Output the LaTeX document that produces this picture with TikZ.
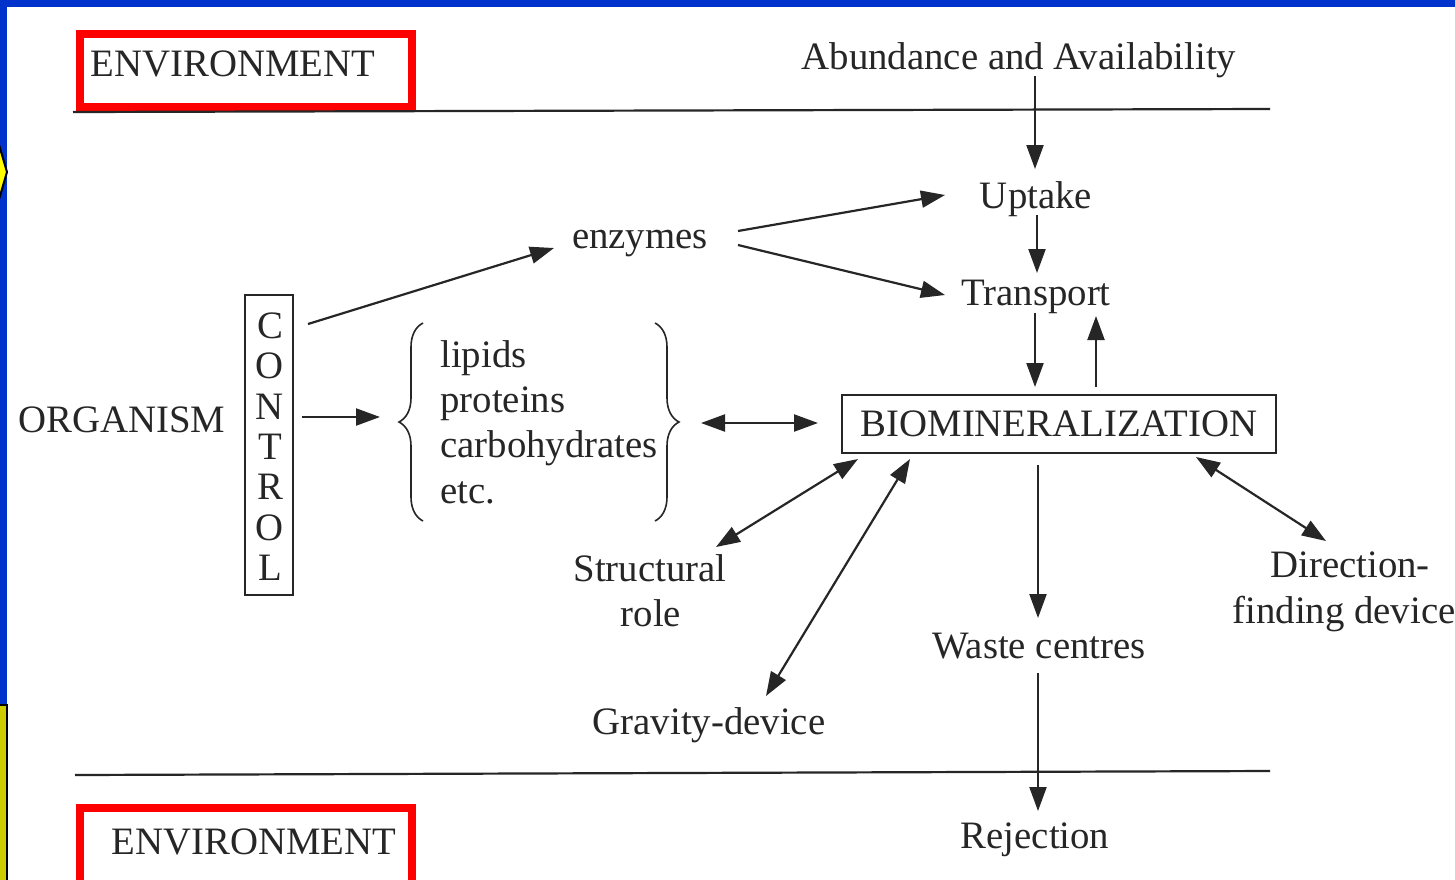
\documentclass[tikz,border=0pt]{standalone}
\usepackage{fontspec}
\setmainfont{Liberation Serif}
\usetikzlibrary{arrows.meta,decorations.pathreplacing}
\definecolor{slideblue}{HTML}{0033CC}
\definecolor{ink}{HTML}{262626}
\definecolor{hexyellow}{HTML}{FFFF00}
\definecolor{baryellow}{HTML}{CCCC00}
\begin{document}
\begin{tikzpicture}[x=0.5pt,y=-0.5pt,
  txt/.style={font=\fontsize{19.4}{23}\selectfont, text=ink, inner sep=0pt, anchor=base},
  ltxt/.style={txt, anchor=base west},
  arr/.style={draw=ink, line width=1.1pt, -{Triangle[length=12pt,width=8.5pt]}},
  darr/.style={draw=ink, line width=1.1pt, {Triangle[length=12pt,width=8.5pt]}-{Triangle[length=12pt,width=8.5pt]}},
  redbox/.style={draw=red, line width=4pt},
  rulerline/.style={draw=ink, line width=1.1pt},
  bracestyle/.style={draw=ink, line width=0.8pt, decorate, decoration={brace, amplitude=12pt}}]
\useasboundingbox (0,0) rectangle (1455,879);
\fill[white] (0,0) rectangle (1455,879);
\clip (0,0) rectangle (1455,879);
% slide frame
\fill[slideblue] (0,0) rectangle (1455,7);
\fill[slideblue] (0,0) rectangle (7,879);
\filldraw[fill=hexyellow, draw=black, line width=1pt] (-20,131) -- (-5,131) -- (7,172) -- (-5,213) -- (-20,213) -- cycle;
\filldraw[fill=baryellow, draw=black, line width=1pt] (-10,705) rectangle (7,900);
% environment boxes and rules
\draw[redbox] (80,34) rectangle (412,107);
\draw[redbox] (80,808) rectangle (412,900);
\coordinate (topL) at (73,112);
\coordinate (topR) at (1270,109);
\coordinate (botL) at (75,775);
\coordinate (botR) at (1270,771);
\draw[rulerline] (topL) -- (topR);
\draw[rulerline] (botL) -- (botR);
\node[txt] (env1) at (233,76) {ENVIRONMENT};
\node[txt] (env2) at (254,854) {ENVIRONMENT};
% text nodes
\node[txt] (abund) at (1019,69) {Abundance and Availability};
\node[txt] (uptake) at (1036,208) {Uptake};
\node[txt] (transport) at (1036,305) {Transport};
\node[txt] (enzymes) at (640,248) {enzymes};
\node[txt] (organism) at (122,432) {ORGANISM};
\node[draw=ink, line width=0.8pt, minimum width=24pt, minimum height=150pt, inner sep=0pt] (control) at (269,445) {};
\node[txt] (c1) at (270,338) {C};
\node[txt] (c2) at (270,378) {O};
\node[txt] (c3) at (270,419) {N};
\node[txt] (c4) at (270,459) {T};
\node[txt] (c5) at (270,499) {R};
\node[txt] (c6) at (270,540) {O};
\node[txt] (c7) at (270,580) {L};
\node[ltxt] (lipids) at (440,367) {lipids};
\node[ltxt] (proteins) at (440,412) {proteins};
\node[ltxt] (carbo) at (440,457) {carbohydrates};
\node[ltxt] (etc) at (440,503) {etc.};
\coordinate (lbA) at (423,521);
\coordinate (lbB) at (423,323);
\coordinate (rbA) at (655,323);
\coordinate (rbB) at (655,521);
\draw[bracestyle] (lbA) -- (lbB);
\draw[bracestyle] (rbA) -- (rbB);
\node[txt, anchor=center, draw=ink, line width=0.9pt, minimum width=217pt, minimum height=29pt] (biomin) at (1059,424) {BIOMINERALIZATION};
\node[txt] (structural) at (650,581) {Structural};
\node[txt] (role) at (651,626) {role};
\node[txt] (gravity) at (709,734) {Gravity-device};
\node[txt] (waste) at (1039,658) {Waste centres};
\node[txt] (rejection) at (1035,848) {Rejection};
\node[txt] (direction) at (1350,577) {Direction-};
\node[txt] (finding) at (1344,623) {finding device};
% connector ports
\coordinate (abund-s) at (1035,76);
\coordinate (uptake-n) at (1035,169);
\coordinate (uptake-s) at (1037,215);
\coordinate (transport-n) at (1037,273);
\coordinate (enz-e1) at (738,231);
\coordinate (uptake-w) at (945,195);
\coordinate (enz-e2) at (738,245);
\coordinate (transport-w) at (945,295);
\coordinate (control-ne) at (308,324);
\coordinate (enz-w) at (554,248);
\coordinate (control-e) at (302,417);
\coordinate (brace-w) at (380,417);
\coordinate (brace-e) at (701,423);
\coordinate (biomin-w) at (818,423);
\coordinate (transport-s1) at (1035,313);
\coordinate (biomin-n1) at (1035,387);
\coordinate (biomin-n2) at (1096,387);
\coordinate (transport-s2) at (1096,316);
\coordinate (struct-ne) at (716,547);
\coordinate (biomin-sw1) at (858,459);
\coordinate (grav-ne) at (766,696);
\coordinate (biomin-sw2) at (910,459);
\coordinate (biomin-s) at (1038,465);
\coordinate (waste-n) at (1038,618);
\coordinate (waste-s) at (1038,673);
\coordinate (reject-n) at (1038,811);
\coordinate (biomin-se) at (1196,457);
\coordinate (dir-nw) at (1326,541);
% connectors
\draw[arr] (abund-s) -- (uptake-n);
\draw[arr] (uptake-s) -- (transport-n);
\draw[arr] (enz-e1) -- (uptake-w);
\draw[arr] (enz-e2) -- (transport-w);
\draw[arr] (control-ne) -- (enz-w);
\draw[arr] (control-e) -- (brace-w);
\draw[darr] (brace-e) -- (biomin-w);
\draw[arr] (transport-s1) -- (biomin-n1);
\draw[arr] (biomin-n2) -- (transport-s2);
\draw[darr] (struct-ne) -- (biomin-sw1);
\draw[darr] (grav-ne) -- (biomin-sw2);
\draw[arr] (biomin-s) -- (waste-n);
\draw[arr] (waste-s) -- (reject-n);
\draw[darr] (biomin-se) -- (dir-nw);
\end{tikzpicture}
\end{document}
